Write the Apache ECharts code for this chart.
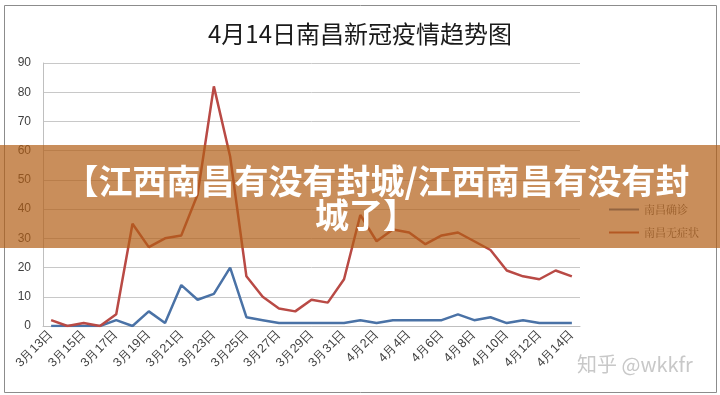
<!DOCTYPE html>
<html>
<head>
<meta charset="utf-8">
<script src="https://cdn.jsdelivr.net/npm/echarts@6/dist/echarts.min.js"></script>
<style>
html,body{margin:0;padding:0;background:#fff;}
#c{width:720px;height:395px;}
</style>
</head>
<body>
<div id="c"></div>
<script>
const categories = ['3月13日','3月14日','3月15日','3月16日','3月17日','3月18日','3月19日','3月20日','3月21日','3月22日','3月23日','3月24日','3月25日','3月26日','3月27日','3月28日','3月29日','3月30日','3月31日','4月1日','4月2日','4月3日','4月4日','4月5日','4月6日','4月7日','4月8日','4月9日','4月10日','4月11日','4月12日','4月13日','4月14日'];
const confirmed = [0,0,0,0,2,0,5,1,14,9,11,20,3,2,1,1,1,1,1,2,1,2,2,2,2,4,2,3,1,2,1,1,1];
const asymptomatic = [2,0,1,0,4,35,27,30,31,45,82,58,17,10,6,5,9,8,16,38,29,33,32,28,31,32,29,26,19,17,16,19,17];
const seriesNames = ['南昌确诊','南昌无症状'];
const titleText = '4月14日南昌新冠疫情趋势图';
const bannerLine1 = '【江西南昌有没有封城/江西南昌有没有封';
const bannerLine2 = '城了】';
const watermark = '知乎 @wkkfr';

const chart = echarts.init(document.getElementById('c'), null, {renderer:'canvas'});
chart.setOption({
  backgroundColor:'#fff',
  animation:false,
  title:{
    text:titleText, left:'center', top:17,
    textStyle:{fontSize:24, fontWeight:'normal', color:'#1a1a1a', fontFamily:'"Noto Sans CJK SC", sans-serif'}
  },
  legend:{
    orient:'vertical', left:604, top:199, itemGap:12,
    itemWidth:30, itemHeight:2, icon:'rect',
    textStyle:{fontSize:11, color:'#595959', fontFamily:'"Noto Serif CJK SC", serif'},
    data:seriesNames
  },
  grid:{left:43, right:140, top:63, bottom:69, containLabel:false},
  xAxis:{
    type:'category', data:categories, boundaryGap:true,
    axisLine:{lineStyle:{color:'#bfbfbf'}},
    axisTick:{show:false},
    axisLabel:{interval:1, rotate:45, fontSize:12.5, color:'#404040', margin:6, fontFamily:'"Liberation Sans", sans-serif'}
  },
  yAxis:{
    type:'value', min:0, max:90, interval:10,
    axisLine:{show:true, lineStyle:{color:'#bfbfbf'}},
    axisTick:{show:false},
    axisLabel:{fontSize:12, color:'#404040', margin:12, fontFamily:'"Liberation Sans", sans-serif'},
    splitLine:{lineStyle:{color:'#c8c8c8'}}
  },
  series:[
    {name:seriesNames[0], type:'line', data:confirmed, symbol:'none', lineStyle:{width:2.5, color:'#4a72a6'}, itemStyle:{color:'#4a72a6'}},
    {name:seriesNames[1], type:'line', data:asymptomatic, symbol:'none', lineStyle:{width:2.5, color:'#b94a45'}, itemStyle:{color:'#b94a45'}}
  ],
  graphic:[
    {type:'rect', left:2, top:3, shape:{width:712, height:387}, style:{fill:'none', stroke:'#8c8c8c', lineWidth:1}, z:1},
    {type:'text', left:577, top:354, style:{text:watermark, fontSize:20, fill:'#c8c8c8', fontFamily:'"Noto Sans CJK SC", sans-serif'}, z:50},
    {type:'rect', left:0, top:145, shape:{width:720, height:103}, style:{fill:'rgba(178,94,22,0.7)'}, z:100},
    {type:'text', x:377, y:181, style:{text:bannerLine1, fontSize:34, fontWeight:'bold', fill:'#fff', align:'center', verticalAlign:'middle', fontFamily:'"Noto Sans CJK SC", sans-serif'}, z:101},
    {type:'text', x:366, y:215, style:{text:bannerLine2, fontSize:34, fontWeight:'bold', fill:'#fff', align:'center', verticalAlign:'middle', fontFamily:'"Noto Sans CJK SC", sans-serif'}, z:101}
  ]
});
</script>
</body>
</html>
